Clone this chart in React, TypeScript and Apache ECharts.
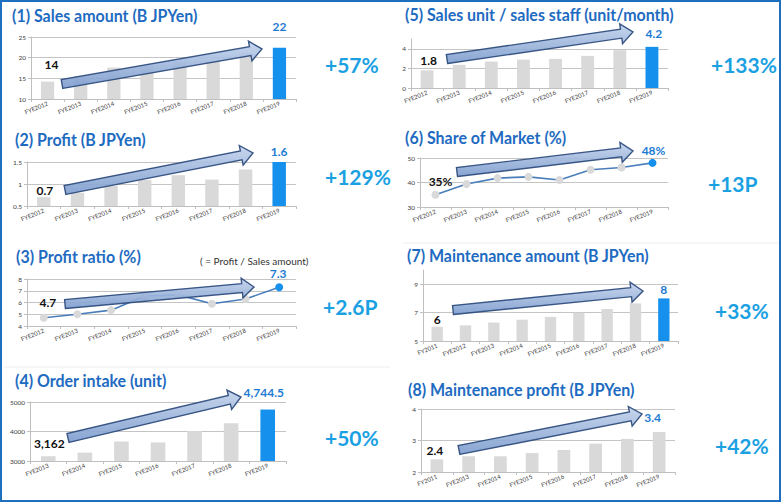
import React, { useEffect, useRef } from 'react';
import * as echarts from 'echarts';

// ---------- categories ----------
const FYE12_19 = ['FYE2012', 'FYE2013', 'FYE2014', 'FYE2015', 'FYE2016', 'FYE2017', 'FYE2018', 'FYE2019'];
const FYE13_19 = ['FYE2013', 'FYE2014', 'FYE2015', 'FYE2016', 'FYE2017', 'FYE2018', 'FYE2019'];
const FY11_19 = ['FY2011', 'FYE2012', 'FYE2013', 'FYE2014', 'FYE2015', 'FYE2016', 'FYE2017', 'FYE2018', 'FYE2019'];
const FY11_13_19 = ['FY2011', 'FYE2013', 'FYE2014', 'FYE2015', 'FYE2016', 'FYE2017', 'FYE2018', 'FYE2019'];

// ---------- series values ----------
const salesAmount = [14.2, 15.5, 17.6, 18.1, 18.9, 19.2, 21.0, 22.4];
const profit = [0.7, 0.8, 0.96, 1.09, 1.2, 1.1, 1.33, 1.6];
const profitRatio = [4.7, 5.0, 5.35, 6.55, 6.65, 5.9, 6.3, 7.3];
const orderIntake = [3162, 3285, 3660, 3630, 4015, 4280, 4744.5];
const salesPerStaff = [1.8, 2.36, 2.7, 2.9, 2.97, 3.28, 3.86, 4.2];
const shareOfMarket = [35, 39.4, 41.8, 42.3, 41.0, 45.2, 46.1, 48];
const maintAmount = [6.0, 6.1, 6.3, 6.5, 6.7, 7.0, 7.25, 7.65, 8.0];
const maintProfit = [2.4, 2.5, 2.5, 2.6, 2.7, 2.9, 3.05, 3.27];

// ---------- texts ----------
const titles = [
  '(1) Sales amount (B JPYen)',
  '(2) Profit (B JPYen)',
  '(3) Profit ratio (%)',
  '(4) Order intake (unit)',
  '(5) Sales unit / sales staff (unit/month)',
  '(6) Share of Market (%)',
  '(7) Maintenance amount (B JPYen)',
  '(8) Maintenance profit (B JPYen)',
];
const changes = ['+57%', '+129%', '+2.6P', '+50%', '+133%', '+13P', '+33%', '+42%'];
const endLabels = [
  ['14', '22'],
  ['0.7', '1.6'],
  ['4.7', '7.3'],
  ['3,162', '4,744.5'],
  ['1.8', '4.2'],
  ['35%', '48%'],
  ['6', '8'],
  ['2.4', '3.4'],
];
const ratioNote = '( = Profit / Sales amount)';

// ---------- y-axis scales (tick labels) ----------
const yScales = [
  { min: 10, max: 25, interval: 5 },
  { min: 0.5, max: 1.5, interval: 0.5 },
  { min: 4, max: 8, interval: 1 },
  { min: 3000, max: 5000, interval: 1000 },
  { min: 0, max: 5, interval: 2, hideMax: true },
  { min: 30, max: 50, interval: 10 },
  { min: 5, max: 10, interval: 2, hideMax: true },
  { min: 2, max: 4, interval: 1 },
];

const panelData = [
  { cats: FYE12_19, values: salesAmount, kind: 'bar', lastBlue: true },
  { cats: FYE12_19, values: profit, kind: 'bar', lastBlue: true },
  { cats: FYE12_19, values: profitRatio, kind: 'line', lastBlue: true },
  { cats: FYE13_19, values: orderIntake, kind: 'bar', lastBlue: true },
  { cats: FYE12_19, values: salesPerStaff, kind: 'bar', lastBlue: true },
  { cats: FYE12_19, values: shareOfMarket, kind: 'line', lastBlue: true },
  { cats: FY11_19, values: maintAmount, kind: 'bar', lastBlue: true },
  { cats: FY11_13_19, values: maintProfit, kind: 'bar', lastBlue: false },
];

// ---------- layout (pixels) ----------
const layout = [
  { grid: { left: 31, top: 37, width: 265, height: 62 }, title: [12, 16], change: [325, 64], arrow: [62, 84, 262, 49], offs: [[4, -17], [0, -21]] },
  { grid: { left: 27, top: 162, width: 269, height: 44 }, title: [15, 140], change: [325, 176], arrow: [65, 190, 253, 153], offs: [[1, -7], [0, -11]] },
  { grid: { left: 27, top: 279, width: 269, height: 47 }, title: [16, 257], change: [323, 306], arrow: [65, 304, 254, 287], offs: [[4, -11], [-1, -10]] },
  { grid: { left: 30, top: 402, width: 256, height: 59 }, title: [15, 381], change: [325, 437], arrow: [68, 438, 241, 397], offs: [[1, -13], [-4, -17]] },
  { grid: { left: 411, top: 39, width: 257, height: 49 }, title: [405, 15], change: [711, 64], arrow: [447, 59, 633, 32], offs: [[1.5, -9.5], [2, -13]] },
  { grid: { left: 420, top: 158, width: 248, height: 49 }, title: [405, 138], change: [708, 183], arrow: [457, 172, 633, 151], offs: [[5, -9], [1, -8]] },
  { grid: { left: 423, top: 270, width: 255, height: 71 }, title: [407, 256], change: [715, 310], arrow: [453, 310, 643, 291], offs: [[0, -7], [0, -9]] },
  { grid: { left: 421, top: 409, width: 254, height: 63 }, title: [408, 390], change: [715, 445], arrow: [459, 450, 642, 414], offs: [[-2, -9], [-6.5, -14.5]] },
];

const GREY = '#D9D9D9';
const BLUE = '#1590EC';
const AXIS = '#BFBFBF';
const FONT = 'Lato, "Open Sans", sans-serif';

function arrowPoints(x1: number, y1: number, x2: number, y2: number) {
  const w = 4.5, h = 10, L = 12;
  const dx = x2 - x1, dy = y2 - y1;
  const len = Math.sqrt(dx * dx + dy * dy);
  const ux = dx / len, uy = dy / len;
  const nx = -uy, ny = ux;
  const bx = x2 - ux * L, by = y2 - uy * L;
  return [
    [x1 + nx * w, y1 + ny * w],
    [bx + nx * w, by + ny * w],
    [bx + nx * h, by + ny * h],
    [x2, y2],
    [bx - nx * h, by - ny * h],
    [bx - nx * w, by - ny * w],
    [x1 - nx * w, y1 - ny * w],
  ];
}

function buildOption() {
  const grid: any[] = [];
  const xAxis: any[] = [];
  const yAxis: any[] = [];
  const series: any[] = [];
  const graphic: any[] = [];

  panelData.forEach((p, i) => {
    const lay = layout[i];
    const sc = yScales[i];
    grid.push({ ...lay.grid, containLabel: false });
    xAxis.push({
      type: 'category',
      gridIndex: i,
      data: p.cats,
      axisLine: { lineStyle: { color: AXIS } },
      axisTick: { show: true, length: 3, lineStyle: { color: AXIS } },
      axisLabel: { rotate: 22, fontSize: 6, color: '#404040', interval: 0, margin: 4, fontFamily: FONT },
    });
    yAxis.push({
      type: 'value',
      gridIndex: i,
      min: sc.min,
      max: sc.max,
      interval: sc.interval,
      axisLine: { show: true, lineStyle: { color: AXIS } },
      axisTick: { show: true, length: 3, lineStyle: { color: AXIS } },
      axisLabel: {
        fontSize: 6.5,
        color: '#404040',
        margin: 5,
        fontFamily: FONT,
        showMaxLabel: sc.hideMax ? false : true,
        formatter: (v: number) => String(v),
      },
      splitLine: { show: true, showMaxLine: sc.hideMax ? false : true, lineStyle: { color: '#C4C4C4', width: 1 } },
    });
    const n = p.values.length;
    const data = p.values.map((v, k) => {
      const isLast = k === n - 1;
      const isFirst = k === 0;
      const item: any = { value: v };
      item.itemStyle = { color: isLast && p.lastBlue ? BLUE : GREY };
      if (isFirst || isLast) {
        item.label = {
          show: true,
          position: 'top',
          distance: 0,
          align: 'center',
          verticalAlign: 'middle',
          offset: lay.offs[isFirst ? 0 : 1],
          formatter: endLabels[i][isFirst ? 0 : 1],
          fontSize: 12,
          fontWeight: 'bold',
          fontFamily: FONT,
          color: isFirst ? '#111111' : '#1E7BD3',
        };
      }
      return item;
    });
    if (p.kind === 'bar') {
      series.push({
        type: 'bar',
        xAxisIndex: i,
        yAxisIndex: i,
        data,
        barWidth: '40%',
        clip: true,
        z: 2,
      });
    } else {
      series.push({
        type: 'line',
        xAxisIndex: i,
        yAxisIndex: i,
        data,
        symbol: 'circle',
        symbolSize: 8,
        lineStyle: { color: '#4A7EBB', width: 1.6 },
        itemStyle: { color: GREY },
        z: 2,
      });
    }

    graphic.push({
      type: 'text',
      x: lay.title[0],
      y: lay.title[1],
      scaleX: 0.94,
      z: 100,
      style: {
        text: titles[i],
        fontSize: 17,
        fontWeight: 'bold',
        fontFamily: FONT,
        fill: '#1E6BC1',
        align: 'left',
        verticalAlign: 'middle',
      },
    });
    graphic.push({
      type: 'text',
      x: lay.change[0],
      y: lay.change[1],
      z: 100,
      style: {
        text: changes[i],
        fontSize: 21,
        fontWeight: 'bold',
        fontFamily: FONT,
        fill: '#1BA1E2',
        align: 'left',
        verticalAlign: 'middle',
      },
    });
    const [ax1, ay1, ax2, ay2] = lay.arrow;
    graphic.push({
      type: 'polygon',
      z: 100,
      shape: { points: arrowPoints(ax1, ay1, ax2, ay2) },
      style: {
        fill: new echarts.graphic.LinearGradient(0, 0, 0, 1, [
          { offset: 0, color: '#C3D3EC' },
          { offset: 1, color: '#7E9DCE' },
        ]),
        stroke: '#2B4A7C',
        lineWidth: 1.4,
        opacity: 0.92,
      },
    });
  });

  graphic.push({
    type: 'text',
    x: 200,
    y: 261,
    z: 100,
    style: { text: ratioNote, fontSize: 10, fontFamily: FONT, fill: '#333333', align: 'left', verticalAlign: 'middle' },
  });
  graphic.push({
    type: 'line',
    z: 50,
    shape: { x1: 4, y1: 367, x2: 390, y2: 367 },
    style: { stroke: '#EDEDED', lineWidth: 1 },
  });
  graphic.push({
    type: 'line',
    z: 50,
    shape: { x1: 403, y1: 243, x2: 780, y2: 243 },
    style: { stroke: '#EDEDED', lineWidth: 1 },
  });
  graphic.push({
    type: 'rect',
    z: 200,
    shape: { x: 1, y: 1, width: 779, height: 500 },
    style: { fill: 'none', stroke: '#1F6FBF', lineWidth: 2 },
  });

  return {
    animation: false,
    backgroundColor: '#FFFFFF',
    textStyle: { fontFamily: FONT },
    grid,
    xAxis,
    yAxis,
    series,
    graphic,
  };
}

export default function App() {
  const ref = useRef<HTMLDivElement>(null);
  useEffect(() => {
    if (!ref.current) return;
    const chart = echarts.init(ref.current, undefined, { renderer: 'svg' });
    chart.setOption(buildOption() as any);
    return () => chart.dispose();
  }, []);
  return (
    <div
      ref={ref}
      style={{ position: 'absolute', left: 0, top: 0, width: 782, height: 503, background: '#fff' }}
    />
  );
}
